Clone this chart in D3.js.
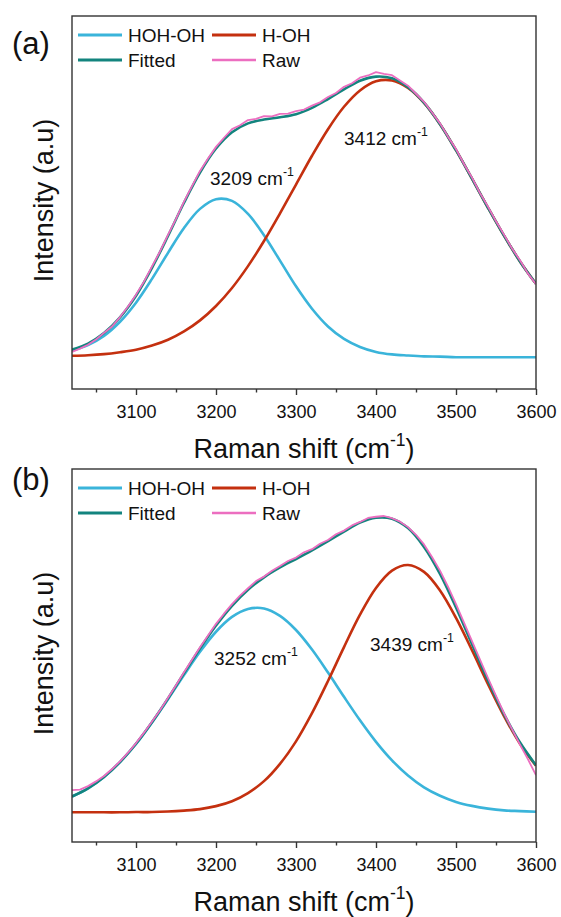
<!DOCTYPE html>
<html>
<head>
<meta charset="utf-8">
<script src="https://cdn.jsdelivr.net/npm/d3@7"></script>
<style>
  html, body { margin: 0; padding: 0; background: #fff; }
  svg { display: block; font-family: "Liberation Sans", Arial, sans-serif; }
</style>
</head>
<body>
<svg id="chart" width="561" height="917"></svg>
<script>
// Raman shift grids (cm-1)
const shiftFit = d3.range(3020, 3601, 20);
const shiftRaw = d3.range(3020, 3601, 10);

const majorTicks = [3100, 3200, 3300, 3400, 3500, 3600];
const minorTicks = [3050, 3150, 3250, 3350, 3450, 3550];

const seriesNames = ['HOH-OH', 'H-OH', 'Fitted', 'Raw'];

// panel (a)
const hohA = [0.022, 0.042, 0.075, 0.126, 0.195, 0.281, 0.375, 0.465, 0.534, 0.569,
    0.563, 0.516, 0.439, 0.347, 0.254, 0.173, 0.109, 0.064, 0.035, 0.017,
    0.008, 0.004, 0.001, 0.000, -0.002, -0.002, -0.002, -0.002, -0.002, -0.002];
const hA = [0.003, 0.005, 0.009, 0.016, 0.025, 0.040, 0.061, 0.091, 0.131, 0.183,
    0.248, 0.327, 0.418, 0.518, 0.622, 0.726, 0.822, 0.903, 0.962, 0.995,
    0.998, 0.971, 0.917, 0.840, 0.746, 0.643, 0.538, 0.437, 0.344, 0.263];
const fitA = [0.025, 0.047, 0.085, 0.142, 0.220, 0.321, 0.436, 0.556, 0.665, 0.752,
    0.811, 0.843, 0.857, 0.865, 0.876, 0.899, 0.931, 0.966, 0.997, 1.012,
    1.006, 0.974, 0.918, 0.840, 0.746, 0.643, 0.538, 0.437, 0.344, 0.263];
const rawA = [0.017, 0.029, 0.043, 0.062, 0.086, 0.109, 0.143, 0.181, 0.224, 0.271,
    0.326, 0.380, 0.440, 0.498, 0.560, 0.616, 0.671, 0.716, 0.758, 0.791,
    0.822, 0.836, 0.855, 0.859, 0.869, 0.868, 0.877, 0.878, 0.887, 0.893,
    0.907, 0.919, 0.938, 0.953, 0.975, 0.988, 1.008, 1.016, 1.028, 1.022,
    1.017, 0.998, 0.979, 0.950, 0.921, 0.882, 0.843, 0.795, 0.750, 0.696,
    0.647, 0.591, 0.542, 0.489, 0.441, 0.391, 0.348, 0.300, 0.262];
const peaksA = ['3209', '3412'];

// panel (b)
const hohB = [0.064, 0.097, 0.143, 0.203, 0.276, 0.363, 0.457, 0.555, 0.649, 0.730,
    0.790, 0.822, 0.824, 0.794, 0.737, 0.658, 0.565, 0.467, 0.372, 0.285,
    0.210, 0.149, 0.101, 0.067, 0.042, 0.026, 0.015, 0.008, 0.005, 0.002];
const hB = [0.000, 0.000, 0.000, 0.000, 0.001, 0.001, 0.003, 0.007, 0.013, 0.025,
    0.045, 0.078, 0.126, 0.196, 0.287, 0.401, 0.531, 0.668, 0.799, 0.907,
    0.977, 1.000, 0.972, 0.897, 0.786, 0.655, 0.518, 0.389, 0.277, 0.188];
const fitB = [0.064, 0.097, 0.143, 0.203, 0.277, 0.364, 0.460, 0.562, 0.662, 0.755,
    0.835, 0.900, 0.950, 0.990, 1.024, 1.059, 1.096, 1.135, 1.171, 1.191,
    1.187, 1.149, 1.073, 0.964, 0.828, 0.680, 0.533, 0.397, 0.282, 0.190];
const rawB = [0.090, 0.092, 0.106, 0.125, 0.147, 0.175, 0.206, 0.241, 0.280, 0.322,
    0.367, 0.413, 0.463, 0.514, 0.566, 0.617, 0.667, 0.715, 0.762, 0.803,
    0.842, 0.876, 0.906, 0.935, 0.953, 0.977, 0.996, 1.016, 1.030, 1.051,
    1.064, 1.086, 1.101, 1.124, 1.139, 1.160, 1.174, 1.190, 1.195, 1.198,
    1.189, 1.175, 1.153, 1.122, 1.083, 1.032, 0.977, 0.912, 0.842, 0.767,
    0.692, 0.617, 0.543, 0.471, 0.401, 0.336, 0.274, 0.214, 0.150];
const peaksB = ['3252', '3439'];

const COLORS = {
    hoh: '#3ab4da',
    h: '#c4300f',
    fit: '#13847e',
    raw: '#ec6ec0',
};

const FONT = {
    tick: 18,
    legend: 19,
    title: 27,
    peak: 19,
    panel: 31,
};

const X_DOMAIN = [3020, 3600];
const PLOT_LEFT = 72;
const PLOT_RIGHT = 536;

const PANELS = [
    {
        id: 'a', label: '(a)', top: 16, bottom: 389, yDomain: [-0.117, 1.231],
        hoh: hohA, h: hA, fit: fitA, raw: rawA,
        peaks: peaksA, peakPos: [[210, 185], [344, 145]], labelY: 54,
    },
    {
        id: 'b', label: '(b)', top: 469, bottom: 842, yDomain: [-0.12, 1.388],
        hoh: hohB, h: hB, fit: fitB, raw: rawB,
        peaks: peaksB, peakPos: [[214, 665], [370, 651]], labelY: 490,
    },
];

const svg = d3.select('#chart');

const x = d3.scaleLinear().domain(X_DOMAIN).range([PLOT_LEFT, PLOT_RIGHT]);

// "cm-1" with a raised -1, optional closing text after it
const addWavenumber = (text, prefix, suffix) => {
    text.append('tspan').text(prefix + 'cm');
    text.append('tspan')
        .attr('font-size', '0.65em')
        .attr('dy', '-0.7em')
        .text('-1');
    if (suffix) {
        text.append('tspan')
            .attr('dy', '0.45em')
            .text(suffix);
    }
};

const drawPanel = (p) => {
    const y = d3.scaleLinear().domain(p.yDomain).range([p.bottom, p.top]);
    const g = svg.append('g').attr('class', 'panel-' + p.id);

    const clipId = 'clip-' + p.id;
    svg.append('clipPath').attr('id', clipId)
        .append('rect')
        .attr('x', PLOT_LEFT).attr('y', p.top)
        .attr('width', PLOT_RIGHT - PLOT_LEFT).attr('height', p.bottom - p.top);

    const smooth = d3.line()
        .x(d => x(d[0]))
        .y(d => y(d[1]))
        .curve(d3.curveCatmullRom);
    const rough = d3.line()
        .x(d => x(d[0]))
        .y(d => y(d[1]));

    const curves = g.append('g').attr('clip-path', `url(#${clipId})`);

    const series = [
        { values: p.hoh, grid: shiftFit, color: COLORS.hoh, width: 2.6, line: smooth },
        { values: p.h, grid: shiftFit, color: COLORS.h, width: 2.6, line: smooth },
        { values: p.fit, grid: shiftFit, color: COLORS.fit, width: 2.6, line: smooth },
        { values: p.raw, grid: shiftRaw, color: COLORS.raw, width: 1.8, line: rough },
    ];

    series.forEach(s => {
        curves.append('path')
            .datum(s.grid.map((v, i) => [v, s.values[i]]))
            .attr('fill', 'none')
            .attr('stroke', s.color)
            .attr('stroke-width', s.width)
            .attr('stroke-linejoin', 'round')
            .attr('d', s.line);
    });

    // frame
    g.append('rect')
        .attr('x', PLOT_LEFT).attr('y', p.top)
        .attr('width', PLOT_RIGHT - PLOT_LEFT).attr('height', p.bottom - p.top)
        .attr('fill', 'none')
        .attr('stroke', '#333')
        .attr('stroke-width', 1.4);

    // bottom axis: major + minor ticks
    const major = g.append('g')
        .attr('transform', `translate(0,${p.bottom})`)
        .call(d3.axisBottom(x).tickValues(majorTicks).tickSize(6).tickPadding(10)
            .tickFormat(d3.format('d')));
    const minor = g.append('g')
        .attr('transform', `translate(0,${p.bottom})`)
        .call(d3.axisBottom(x).tickValues(minorTicks).tickSize(3.5).tickFormat(''));
    [major, minor].forEach(a => {
        a.select('.domain').remove();
        a.selectAll('line').attr('stroke', '#333').attr('stroke-width', 1.4);
    });
    major.selectAll('text')
        .attr('font-size', FONT.tick)
        .attr('font-family', '"Liberation Sans", Arial, sans-serif')
        .attr('fill', '#111');

    // axis titles
    const xt = g.append('text')
        .attr('x', (PLOT_LEFT + PLOT_RIGHT) / 2)
        .attr('y', p.bottom + 69)
        .attr('text-anchor', 'middle')
        .attr('font-size', FONT.title)
        .attr('fill', '#111');
    addWavenumber(xt, 'Raman shift (', ')');

    g.append('text')
        .attr('transform', `translate(53,${(p.top + p.bottom) / 2 - 2}) rotate(-90)`)
        .attr('text-anchor', 'middle')
        .attr('font-size', FONT.title)
        .attr('fill', '#111')
        .text('Intensity (a.u)');

    // panel letter
    g.append('text')
        .attr('x', 12).attr('y', p.labelY)
        .attr('font-size', FONT.panel)
        .attr('fill', '#111')
        .text(p.label);

    // legend
    const legendCols = [78, 212];
    const legendRows = [p.top + 19, p.top + 44];
    const legendColors = [COLORS.hoh, COLORS.h, COLORS.fit, COLORS.raw];
    seriesNames.forEach((name, i) => {
        const lx = legendCols[i % 2];
        const ly = legendRows[Math.floor(i / 2)];
        g.append('line')
            .attr('x1', lx).attr('x2', lx + 44)
            .attr('y1', ly).attr('y2', ly)
            .attr('stroke', legendColors[i])
            .attr('stroke-width', i === 3 ? 2.4 : 2.8);
        g.append('text')
            .attr('x', lx + 50).attr('y', ly + 7)
            .attr('font-size', FONT.legend)
            .attr('fill', '#111')
            .text(name);
    });

    // peak positions
    p.peaks.forEach((pk, i) => {
        const t = g.append('text')
            .attr('x', p.peakPos[i][0]).attr('y', p.peakPos[i][1])
            .attr('font-size', FONT.peak)
            .attr('fill', '#111');
        addWavenumber(t, pk + ' ');
    });
};

PANELS.forEach(drawPanel);
</script>
</body>
</html>
